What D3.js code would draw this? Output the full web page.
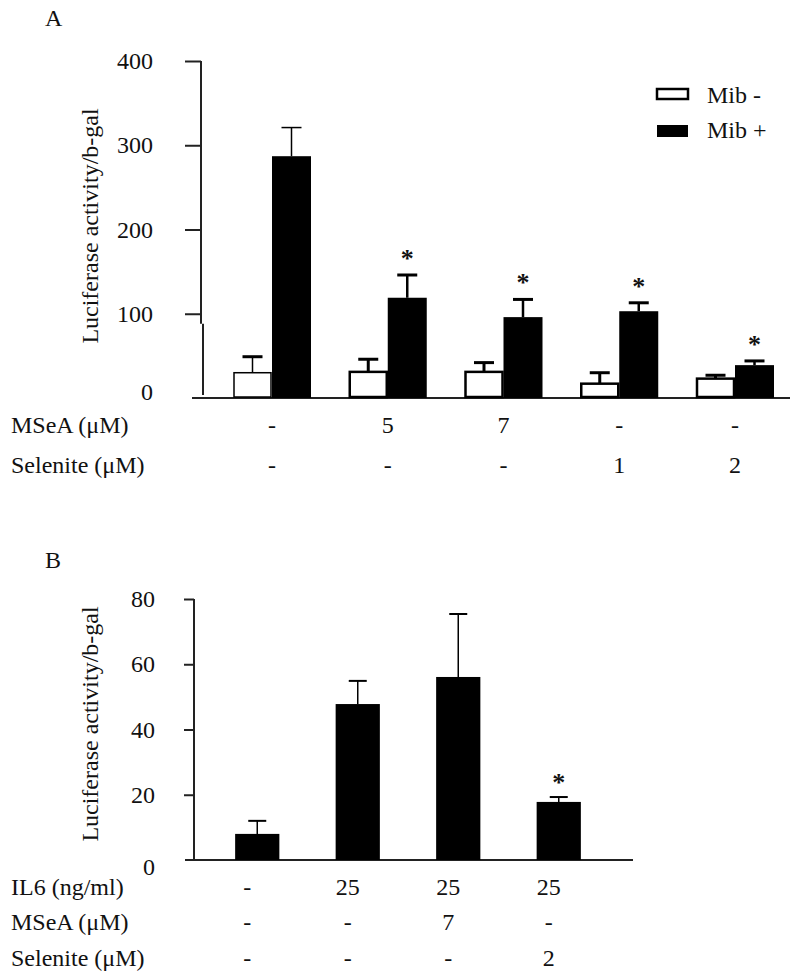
<!DOCTYPE html>
<html>
<head>
<meta charset="utf-8">
<script src="https://cdn.jsdelivr.net/npm/d3@7"></script>
<style>
  body { margin: 0; background: #fff; }
  svg { display: block; }
  text { font-family: "Liberation Serif", "Times New Roman", serif; fill: #111; }
</style>
</head>
<body>
<svg id="chart" width="800" height="980"></svg>
<script>
// ---------- Panel A data ----------
const groupsA = ["g1", "g2", "g3", "g4", "g5"];
const seriesA = ["Mib -", "Mib +"];
const mibMinus = [30, 31, 31, 17, 23];
const mibMinusErr = [19, 15, 11, 13, 4];
const mibPlus = [287, 119, 96, 103, 39];
const mibPlusErr = [34, 27, 21, 10, 5];
const sigA = [false, true, true, true, true];
const mseaA = ["-", "5", "7", "-", "-"];
const seleniteA = ["-", "-", "-", "1", "2"];
const ticksA = [0, 100, 200, 300, 400];

// ---------- Panel B data ----------
const groupsB = ["b1", "b2", "b3", "b4"];
const valuesB = [8, 47.8, 56.1, 17.8];
const errB = [4, 7.1, 19.3, 1.5];
const sigB = [false, false, false, true];
const il6B = ["-", "25", "25", "25"];
const mseaB = ["-", "-", "7", "-"];
const seleniteB = ["-", "-", "-", "2"];
const ticksB = [0, 20, 40, 60, 80];

const yLabel = "Luciferase activity/b-gal";
const FS = 24;

const svg = d3.select("#chart");

function errBar(g, cx, yTop, yCap, capW, sw, capSw) {
  g.append("line").attr("x1", cx).attr("x2", cx).attr("y1", yTop).attr("y2", yCap)
    .attr("stroke", "#000").attr("stroke-width", sw);
  g.append("line").attr("x1", cx - capW / 2).attr("x2", cx + capW / 2).attr("y1", yCap).attr("y2", yCap)
    .attr("stroke", "#000").attr("stroke-width", capSw);
}

// ================= PANEL A =================
const gA = svg.append("g");
const cA = d3.scalePoint().domain(groupsA).range([272, 735]);
const yA = d3.scaleLinear().domain([0, 400]).range([398, 61]);
const barW = 39;

// y axis (with small break near 100)
gA.append("line").attr("x1", 201).attr("x2", 201).attr("y1", yA(400)).attr("y2", yA(100) + 10)
  .attr("stroke", "#222").attr("stroke-width", 2);
gA.append("line").attr("x1", 203).attr("x2", 203).attr("y1", yA(100) + 10).attr("y2", 395)
  .attr("stroke", "#222").attr("stroke-width", 2);
const axA = d3.axisLeft(yA).tickValues(ticksA).tickSize(16).tickPadding(32).tickFormat(d3.format("d"));
const axisA = gA.append("g").attr("transform", "translate(201,0)").call(axA);
axisA.select(".domain").remove();
axisA.selectAll(".tick line").attr("stroke", "#222").attr("stroke-width", 2);
axisA.selectAll(".tick").filter(d => d === 0).select("line").remove();
axisA.selectAll(".tick text").attr("font-size", FS).attr("font-family", "Liberation Serif").attr("fill", "#111");
axisA.selectAll(".tick").filter(d => d === 0).select("text").attr("dy", "0.05em");

// baseline
gA.append("line").attr("x1", 192).attr("x2", 790).attr("y1", yA(0)).attr("y2", yA(0))
  .attr("stroke", "#222").attr("stroke-width", 2);

const grpA = gA.selectAll(".grpA").data(groupsA).join("g").attr("class", "grpA");
grpA.append("rect")
  .attr("x", d => cA(d) - barW + 1)
  .attr("y", (d, i) => yA(mibMinus[i]))
  .attr("width", barW - 2)
  .attr("height", (d, i) => yA(0) - yA(mibMinus[i]) - 1)
  .attr("fill", "#fff").attr("stroke", "#000").attr("stroke-width", (d, i) => i === 0 ? 1.5 : 2.5);
grpA.append("rect")
  .attr("x", d => cA(d))
  .attr("y", (d, i) => yA(mibPlus[i]))
  .attr("width", barW)
  .attr("height", (d, i) => yA(0) - yA(mibPlus[i]))
  .attr("fill", "#000");
grpA.each(function (d, i) {
  const g = d3.select(this);
  const cw = cA(d) - barW / 2;
  const cb = cA(d) + barW / 2;
  errBar(g, cw, yA(mibMinus[i]), yA(mibMinus[i] + mibMinusErr[i]), 20, i === 0 ? 1.5 : 3, 3);
  errBar(g, cb, yA(mibPlus[i]), yA(mibPlus[i] + mibPlusErr[i]), 20, i === 0 ? 1.5 : 2.5, i === 0 ? 1.5 : 3);
  if (sigA[i]) {
    g.append("text").attr("x", cb).attr("y", yA(mibPlus[i] + mibPlusErr[i]) - 8)
      .attr("text-anchor", "middle").attr("font-size", 26).attr("font-weight", "bold").text("*");
  }
});

// legend
const legA = gA.append("g");
seriesA.forEach((s, i) => {
  legA.append("rect").attr("x", 657).attr("y", 89 + i * 36).attr("width", 31).attr("height", i === 0 ? 10 : 12)
    .attr("fill", i === 0 ? "#fff" : "#000").attr("stroke", "#000").attr("stroke-width", i === 0 ? 2.5 : 0);
  legA.append("text").attr("x", 707).attr("y", 95 + i * 35).attr("dy", "0.35em")
    .attr("font-size", FS).text(s);
});

svg.append("text").attr("x", 45).attr("y", 26).attr("font-size", FS).text("A");
svg.append("text").attr("transform", "translate(98,226) rotate(-90)").attr("text-anchor", "middle")
  .attr("font-size", FS).text(yLabel);

const rowsA = [["MSeA (\u03bcM)", mseaA, 425], ["Selenite (\u03bcM)", seleniteA, 465]];
rowsA.forEach(([lab, vals, y]) => {
  svg.append("text").attr("x", 11).attr("y", y).attr("dy", "0.35em").attr("font-size", FS).text(lab);
  svg.selectAll(null).data(groupsA).join("text")
    .attr("x", d => cA(d)).attr("y", y).attr("dy", "0.35em")
    .attr("text-anchor", "middle").attr("font-size", FS)
    .text((d, i) => vals[i]);
});

// ================= PANEL B =================
const gB = svg.append("g");
const xB = d3.scaleBand().domain(groupsB).range([207, 609]).paddingInner(0.56).paddingOuter(0.28);
const yB = d3.scaleLinear().domain([0, 80]).range([860, 599]);

gB.append("line").attr("x1", 194).attr("x2", 194).attr("y1", yB(80)).attr("y2", yB(0))
  .attr("stroke", "#222").attr("stroke-width", 2);
const axB = d3.axisLeft(yB).tickValues(ticksB).tickSize(10).tickPadding(29).tickFormat(d3.format("d"));
const axisB = gB.append("g").attr("transform", "translate(194,0)").call(axB);
axisB.select(".domain").remove();
axisB.selectAll(".tick line").attr("stroke", "#222").attr("stroke-width", 2);
axisB.selectAll(".tick").filter(d => d === 0).select("line").remove();
axisB.selectAll(".tick text").attr("font-size", FS).attr("font-family", "Liberation Serif").attr("fill", "#111");
axisB.selectAll(".tick").filter(d => d === 0).select("text").attr("dy", "0.6em");

gB.append("line").attr("x1", 185).attr("x2", 633).attr("y1", yB(0)).attr("y2", yB(0))
  .attr("stroke", "#222").attr("stroke-width", 2);

const grpB = gB.selectAll(".grpB").data(groupsB).join("g").attr("class", "grpB");
grpB.append("rect")
  .attr("x", d => xB(d)).attr("y", (d, i) => yB(valuesB[i]))
  .attr("width", xB.bandwidth()).attr("height", (d, i) => yB(0) - yB(valuesB[i]))
  .attr("fill", "#000");
grpB.each(function (d, i) {
  const g = d3.select(this);
  const cx = xB(d) + xB.bandwidth() / 2;
  errBar(g, cx, yB(valuesB[i]), yB(valuesB[i] + errB[i]), 18, 1.5, 2);
  if (sigB[i]) {
    g.append("text").attr("x", cx).attr("y", yB(valuesB[i] + errB[i]) - 6)
      .attr("text-anchor", "middle").attr("font-size", 26).attr("font-weight", "bold").text("*");
  }
});

svg.append("text").attr("x", 45).attr("y", 568).attr("font-size", FS).text("B");
svg.append("text").attr("transform", "translate(98,724) rotate(-90)").attr("text-anchor", "middle")
  .attr("font-size", FS).text(yLabel);

const rowsB = [["IL6 (ng/ml)", il6B, 887], ["MSeA (\u03bcM)", mseaB, 922], ["Selenite (\u03bcM)", seleniteB, 958]];
rowsB.forEach(([lab, vals, y]) => {
  svg.append("text").attr("x", 11).attr("y", y).attr("dy", "0.35em").attr("font-size", FS).text(lab);
  svg.selectAll(null).data(groupsB).join("text")
    .attr("x", d => xB(d) + xB.bandwidth() / 2 - 10).attr("y", y).attr("dy", "0.35em")
    .attr("text-anchor", "middle").attr("font-size", FS)
    .text((d, i) => vals[i]);
});
</script>
</body>
</html>
